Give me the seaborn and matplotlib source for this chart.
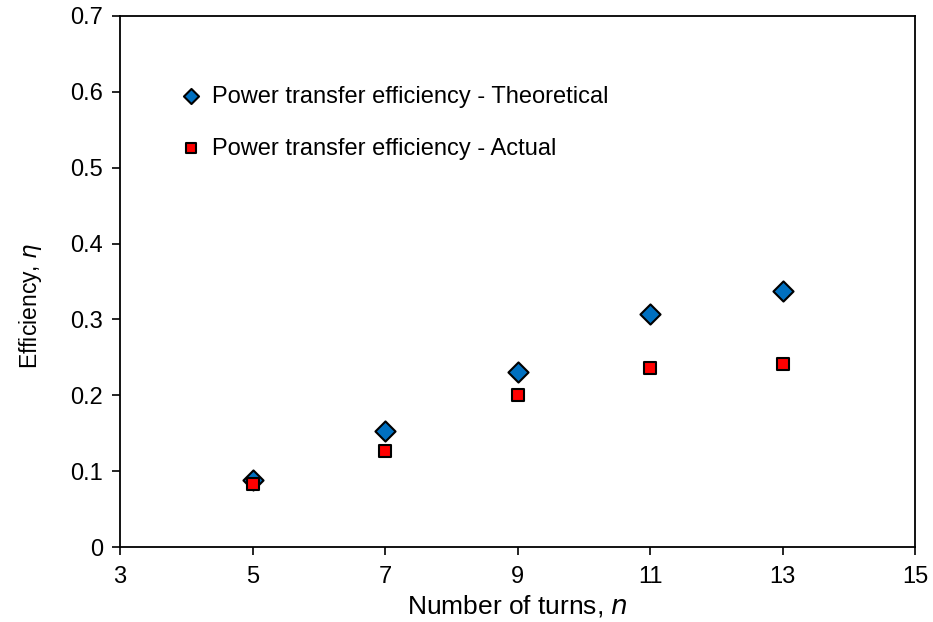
import matplotlib
matplotlib.use("Agg")
import matplotlib.pyplot as plt
import seaborn as sns
import pandas as pd

turns = [5, 7, 9, 11, 13]
eff_theoretical = [0.088, 0.153, 0.231, 0.307, 0.338]
eff_actual = [0.083, 0.127, 0.200, 0.236, 0.241]
label_theo = "Power transfer efficiency - Theoretical"
label_act = "Power transfer efficiency - Actual"

sns.set_theme(style="white")
plt.rcParams['font.family'] = ['Liberation Sans', 'DejaVu Sans']
plt.rcParams['text.color'] = 'black'
plt.rcParams['axes.labelcolor'] = 'black'

fig = plt.figure(figsize=(9.33, 6.22), dpi=100)
ax = fig.add_axes([120/933, 1-547/622, (915-120)/933, (547-16)/622])

df_t = pd.DataFrame({"n": turns, "eff": eff_theoretical})
df_a = pd.DataFrame({"n": turns, "eff": eff_actual})

sns.scatterplot(data=df_t, x="n", y="eff", marker="D", s=105, color="#0070C0",
                edgecolor="black", linewidth=1.5, ax=ax, label=label_theo, zorder=3)
sns.scatterplot(data=df_a, x="n", y="eff", marker="s", s=85, color="#FF0000",
                edgecolor="black", linewidth=1.5, ax=ax, label=label_act, zorder=4)

ax.set_xlim(3, 15)
ax.set_ylim(0, 0.7)
ax.set_xticks([3, 5, 7, 9, 11, 13, 15])
ax.set_yticks([0, 0.1, 0.2, 0.3, 0.4, 0.5, 0.6, 0.7])
ax.set_yticklabels(["0", "0.1", "0.2", "0.3", "0.4", "0.5", "0.6", "0.7"])
ax.tick_params(axis="both", direction="out", length=6, width=1.2, colors="black",
               labelcolor="black", labelsize=17, left=True, bottom=True, pad=6)
ax.tick_params(axis="x", pad=8)
for sp in ax.spines.values():
    sp.set_visible(True)
    sp.set_color("black")
    sp.set_linewidth(1.3)

ax.set_xlabel("Number of turns, $\\it{n}$", fontsize=19, labelpad=3, color="black")
ax.set_ylabel("Efficiency, $\\it{\\eta}$", fontsize=16.5, color="black")
ax.yaxis.set_label_coords(-0.095, 0.454)

leg = ax.legend(loc="upper left", bbox_to_anchor=(0.0627, 0.8866), frameon=False,
                fontsize=17, labelspacing=1.27, handlelength=1.0,
                handletextpad=0.39, borderaxespad=0, markerscale=0.75)
for t in leg.get_texts():
    t.set_color("black")

fig.savefig("out.png", dpi=100)
